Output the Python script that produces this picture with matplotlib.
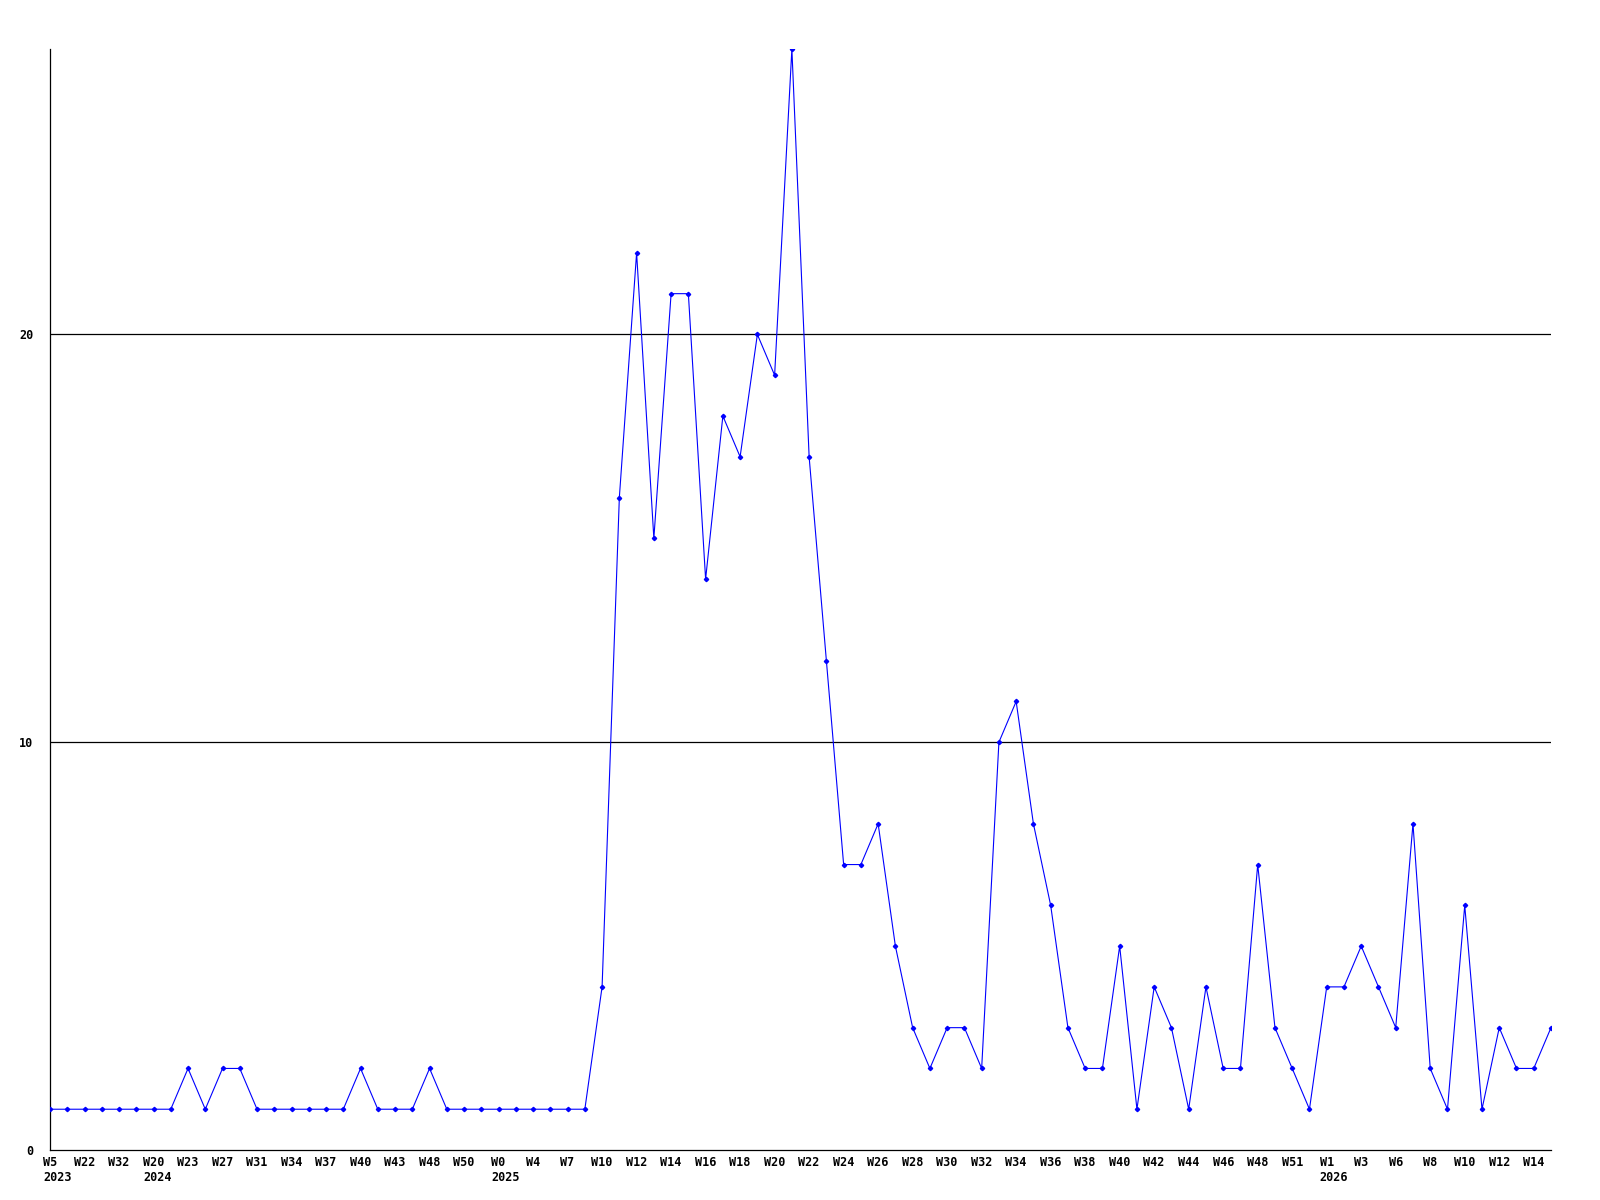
import matplotlib
matplotlib.use('Agg')
from matplotlib import pyplot as plt
import numpy as np

# weekly values, one per plotted point
counts = [1, 1, 1, 1, 1, 1, 1, 1, 2, 1,
          2, 2, 1, 1, 1, 1, 1, 1, 2, 1,
          1, 1, 2, 1, 1, 1, 1, 1, 1, 1,
          1, 1, 4, 16, 22, 15, 21, 21, 14, 18,
          17, 20, 19, 27, 17, 12, 7, 7, 8, 5,
          3, 2, 3, 3, 2, 10, 11, 8, 6, 3,
          2, 2, 5, 1, 4, 3, 1, 4, 2, 2,
          7, 3, 2, 1, 4, 4, 5, 4, 3, 8,
          2, 1, 6, 1, 3, 2, 2, 3]

# labels shown under every second point
week_labels = ['W5', 'W22', 'W32', 'W20', 'W23', 'W27', 'W31', 'W34', 'W37', 'W40',
               'W43', 'W48', 'W50', 'W0', 'W4', 'W7', 'W10', 'W12', 'W14', 'W16',
               'W18', 'W20', 'W22', 'W24', 'W26', 'W28', 'W30', 'W32', 'W34', 'W36',
               'W38', 'W40', 'W42', 'W44', 'W46', 'W48', 'W51', 'W1', 'W3', 'W6',
               'W8', 'W10', 'W12', 'W14']
year_marks = {0: '2023', 3: '2024', 13: '2025', 37: '2026'}

y_ticks = [0, 10, 20]

fsize = 8.5
font = dict(family='DejaVu Sans Mono', fontsize=fsize, fontweight='bold')

fig = plt.figure(figsize=(16, 12), dpi=100)
ax = fig.add_axes([50 / 1600, 50 / 1200, 1501 / 1600, 1101 / 1200])

x = np.arange(len(counts))
ax.plot(x, counts, color='#0000ff', linewidth=0.8, marker='D', markersize=2.2,
        markerfacecolor='#0000ff', markeredgecolor='#0000ff', zorder=3)

ax.set_xlim(0, len(counts) - 1)
ax.set_ylim(0, max(counts))

for v in y_ticks[1:]:
    ax.axhline(v, color='black', linewidth=0.9, zorder=1)

for s in ['top', 'right']:
    ax.spines[s].set_visible(False)
ax.spines['left'].set_linewidth(0.9)
ax.spines['bottom'].set_linewidth(0.9)

ax.set_yticks(y_ticks)
ax.set_yticklabels([str(v) for v in y_ticks], **font)
ax.tick_params(axis='y', length=0, pad=12)

tick_pos = x[::2][:len(week_labels)]
ax.set_xticks(tick_pos)
ax.set_xticklabels(week_labels, **font)
ax.tick_params(axis='x', length=0, pad=4)

char_pt = 0.6 * fsize
for i, yr in year_marks.items():
    off = -len(week_labels[i]) * char_pt / 2
    ax.annotate(yr, xy=(tick_pos[i], 0), xycoords=('data', 'axes fraction'),
                xytext=(off, -20), textcoords='offset points',
                ha='left', va='center', annotation_clip=False, **font)

fig.savefig('out.png', dpi=100)
